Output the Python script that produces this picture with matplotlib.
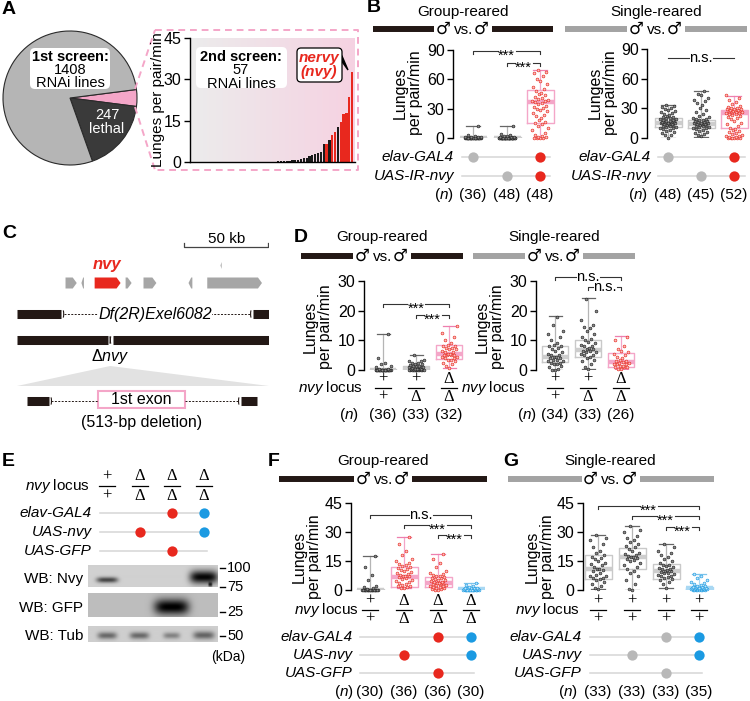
import matplotlib.pyplot as plt
import numpy as np
from matplotlib.patches import FancyBboxPatch, Polygon, Rectangle, Arc
from matplotlib.colors import LinearSegmentedColormap

plt.rcParams['font.family'] = ['Liberation Sans', 'DejaVu Sans']
plt.rcParams['mathtext.fontset'] = 'custom'
plt.rcParams['mathtext.it'] = 'Liberation Sans:italic'
plt.rcParams['mathtext.rm'] = 'Liberation Sans'
plt.rcParams['mathtext.bf'] = 'Liberation Sans:bold'

# ---------------- data ----------------
pie_counts = [57, 247, 1104]          # 2nd screen, lethal, rest of 1408

screen2_lunges = [0, 0, 0, 0, 0, 0, 0, 0, 0, 0,
                  0, 0, 0, 0, 0, 0, 0, 0, 0, 0,
                  0, 0, 0, 0, 0,
                  0.05, 0.05, 0.1, 0.1, 0.15, 0.2, 0.25, 0.3, 0.4, 0.5, 0.6, 0.75, 0.9, 1.0, 1.3,
                  1.6, 2.0, 2.4, 2.8, 3.2, 3.6,
                  6.5, 6.6, 8.1, 9.7, 10.8, 12.6, 14.5, 17.4, 17.9, 23.5, 32.6]
screen2_hit_tail = ['k', 'r', 'k', 'r', 'r', 'k', 'r', 'r', 'r', 'r', 'r']

# box stats: whislo, q1, med, q3, whishi
B_left_stats = [(0, 0, 0, 0.5, 12), (0, 0, 0, 0.8, 12.5), (0, 15.3, 37, 49, 69.5)]
B_left_pts = [
    [0, 0, 0, 0, 0, 0, 0, 0, 0, 0, 0, 0, 0, 0, 0, 0, 0, 0, 0, 0, 0, 0, 0, 0, 0, 0,
     0.5, 0.5, 0.5, 1, 1, 1, 1.5, 2, 3, 12],
    [0, 0, 0, 0, 0, 0, 0, 0, 0, 0, 0, 0, 0, 0, 0, 0, 0, 0, 0, 0, 0, 0, 0, 0, 0, 0, 0, 0,
     0, 0, 0, 0, 0, 0, 0, 0, 0.5, 0.5, 0.5, 1, 1, 1.5, 2, 2.5, 3, 4, 12.5],
    [0, 0, 0, 0.5, 1, 1.5, 2, 3, 5, 8, 10, 12, 14, 15, 16, 18, 20, 22, 24, 26, 28, 29, 30,
     31, 32, 33, 35, 36, 37, 38, 38, 39, 40, 41, 42, 44, 45, 46, 48, 50, 52, 55, 58, 60,
     63, 66, 68, 70]]
B_right_stats = [(0, 11, 15.5, 20.5, 33), (1.5, 10, 14.5, 18.5, 48), (0, 10, 25, 28.5, 42.5)]
B_right_pts = [
    [0, 3, 3, 5, 6, 7, 8, 9, 10, 10, 11, 11, 12, 12, 13, 13, 14, 14, 14, 15, 15, 15, 16,
     16, 16, 17, 17, 17, 18, 18, 19, 19, 20, 20, 21, 21, 22, 23, 24, 25, 26, 27, 28, 29,
     30, 31, 32, 33],
    [2, 3, 4, 5, 6, 7, 8, 9, 10, 10, 11, 11, 12, 12, 13, 13, 14, 14, 14, 15, 15, 15, 16,
     16, 17, 17, 18, 18, 19, 19, 20, 21, 22, 24, 26, 28, 30, 33, 35, 37, 38, 40, 43, 45, 48],
    [0, 0, 0, 0, 0, 0.5, 1, 1, 2, 2, 3, 4, 5, 6, 7, 8, 9, 10, 12, 14, 15, 17, 19, 20, 21,
     22, 23, 24, 24, 25, 25, 26, 26, 26, 27, 27, 27, 28, 28, 28, 29, 29, 29, 30, 30, 31,
     32, 34, 36, 38, 40, 43]]
B_left_n = [36, 48, 48]
B_right_n = [48, 45, 52]

D_left_stats = [(0, 0, 0, 0.2, 12.3), (0, 0, 0.5, 1.2, 5.2), (0.6, 3.7, 5.4, 8.4, 14.8)]
D_left_pts = [
    [0, 0, 0, 0, 0, 0, 0, 0, 0, 0, 0, 0, 0, 0, 0, 0, 0, 0, 0, 0, 0, 0, 0, 0, 0, 0, 0, 0,
     0.3, 0.5, 1, 1.5, 2, 2.5, 4, 12.3],
    [0, 0, 0, 0, 0, 0, 0, 0, 0, 0, 0, 0, 0.3, 0.3, 0.5, 0.5, 0.5, 0.8, 1, 1, 1, 1.2, 1.5,
     1.5, 1.8, 2, 2, 2.3, 2.5, 3, 3, 3.5, 5],
    [0.6, 1.5, 2, 2.5, 3, 3.5, 3.5, 4, 4, 4.5, 4.5, 5, 5, 5, 5.2, 5.5, 5.5, 6, 6, 6.5, 7,
     7, 7.5, 7.5, 8, 8, 8.5, 9, 10, 11, 12.5, 14.8]]
D_right_stats = [(0, 2.7, 4.4, 8.1, 18.2), (0.3, 4.4, 6.7, 10.1, 24.2), (0.5, 1, 2.7, 5.7, 11.4)]
D_right_pts = [
    [0, 0, 0.5, 1, 1.5, 2, 2, 2.5, 2.5, 3, 3, 3.5, 3.5, 4, 4, 4.5, 4.5, 5, 5, 5.5, 6, 6.5,
     7, 7.5, 8, 8, 8.5, 9, 10, 11, 12, 13, 15, 18],
    [0.3, 1, 2, 3, 3.5, 4, 4.5, 5, 5, 5.5, 6, 6, 6.5, 6.5, 7, 7, 7.5, 8, 8, 8.5, 9, 9.5,
     10, 10.5, 11, 12, 13, 14, 14.5, 15, 17, 20, 24],
    [0.5, 0.5, 1, 1, 1, 1.5, 1.5, 2, 2, 2, 2.5, 2.5, 2.8, 3, 3, 3.5, 4, 4.5, 5, 5.5, 6,
     6.5, 7, 8, 10, 11.2]]
D_left_n = [36, 33, 32]
D_right_n = [34, 33, 26]
D_tops, D_bots = ['+', '+', 'Δ'], ['+', 'Δ', 'Δ']

F_stats = [(0, 0, 0, 0.5, 17.6), (1, 1.6, 6.7, 11.9, 27.4), (0, 1.4, 3.8, 6.5, 18.5),
           (0, 0, 0.5, 1, 3.5)]
F_pts = [
    [0, 0, 0, 0, 0, 0, 0, 0, 0, 0, 0, 0, 0, 0, 0, 0, 0, 0, 0, 0, 0, 0, 0.5, 1, 1.5, 2, 5,
     8, 12, 17.5],
    [1, 1, 1.5, 2, 2, 2.5, 3, 3.5, 4, 4.5, 5, 5.5, 6, 6.5, 7, 7, 7.5, 8, 8.5, 9, 9.5, 10,
     10.5, 11, 11.5, 12, 12.5, 13, 13.5, 14, 15, 16, 18, 20, 24, 27.4],
    [0, 0, 0.5, 0.5, 1, 1, 1.5, 1.5, 2, 2, 2.5, 2.5, 3, 3, 3.5, 3.5, 3.8, 4, 4, 4.5, 5, 5,
     5.5, 6, 6, 6.5, 7, 7.5, 8, 8.5, 9, 10, 12, 14, 16, 18.5],
    [0, 0, 0, 0, 0, 0, 0, 0, 0, 0, 0, 0, 0, 0, 0, 0, 0, 0, 0.3, 0.5, 0.5, 0.8, 1, 1, 1,
     1.2, 1.5, 2, 2.5, 3.5]]
F_n = [30, 36, 36, 30]

G_stats = [(0.5, 5.7, 10.8, 18, 28.3), (0, 10.7, 17.2, 21.6, 33.2), (1, 5.7, 9.8, 13.4, 23.7),
           (0, 0.5, 1, 1.5, 8.2)]
G_pts = [
    [0.5, 1, 2, 3, 4, 5, 5.5, 6, 6, 7, 7.5, 8, 9, 10, 10.5, 11, 11, 12, 13, 13.5, 14, 15,
     16, 16.5, 17, 18, 19, 20, 22, 24, 26, 27, 28.3],
    [0, 0.5, 3, 5, 7, 9, 10, 11, 12, 13, 14, 15, 15.5, 16, 16.5, 17, 17, 17.5, 18, 18.5,
     19, 20, 21, 22, 23, 24, 25, 26, 27, 28, 30, 31, 33],
    [1, 3, 4, 5, 5.5, 6, 6.5, 7, 7.5, 8, 8.5, 9, 9, 9.5, 10, 10, 10.5, 11, 11, 11.5, 12,
     12.5, 13, 13, 14, 15, 16, 17, 18, 19, 20, 22, 23.7],
    [0, 0, 0, 0, 0, 0, 0, 0, 0.3, 0.3, 0.5, 0.5, 0.5, 0.7, 0.7, 0.8, 1, 1, 1, 1, 1.2, 1.2,
     1.5, 1.5, 1.8, 2, 2, 2.5, 3, 3.5, 4, 5, 6, 7, 8.2]]
G_n = [33, 33, 33, 35]

# gene map (kb)
gene_start = [29, 38.5, 46.4, 64.9, 75.6, 102.5, 113.7]
gene_end = [35.7, 40, 61.9, 68.5, 83.3, 104.8, 146.4]
gene_strand = [1, -1, 1, 1, 1, -1, 1]

# western blot bands: lane, y centre, x half-width, y half-width, darkness
nvy_bands = [(0, 0.32, 0.33, 0.13, 0.55), (3, 0.45, 0.44, 0.3, 0.8), (3.2, 0.1, 0.06, 0.1, 0.5)]
gfp_bands = [(2, 0.42, 0.54, 0.33, 0.75)]
tub_bands = [(0, 0.4, 0.3, 0.22, 0.4), (1, 0.4, 0.3, 0.22, 0.4), (2, 0.4, 0.26, 0.2, 0.3),
             (3, 0.42, 0.33, 0.25, 0.42)]

RED = '#e8281e'
BLUE = '#1b9ae2'
GRAYDOT = '#b8b8b8'
DARK = '#231815'
GRAYBAR = '#a3a3a3'
PINK = '#f4a6c8'
DOTC = {'g': GRAYDOT, 'r': RED, 'b': BLUE, '': None}

STYLE = {  # box edge, median, whisker, cap, point face, point edge
    'g': ('#c9c9c9', '#cdcdcd', '#b5b5b5', '#666666', '#8a8a8a', '#222222'),
    'r': (PINK, PINK, PINK, '#ee7fae', '#f9c0c0', RED),
    'b': ('#a9d8f3', '#a9d8f3', '#a9d8f3', '#7cc4ec', '#bfe4f8', BLUE),
}
JIT = [0, -3, 3, -6, 6, -1.5, 1.5, -4.5, 4.5, -7.5, 7.5, -2, 2, -5, 5, -1, 1, -4, 4, -7, 7]

W, H = 750, 701
fig = plt.figure(figsize=(7.5, 7.01), dpi=100)

cv = fig.add_axes([0, 0, 1, 1])
cv.set_xlim(0, W)
cv.set_ylim(H, 0)
cv.axis('off')
cv.set_zorder(10)
cv.patch.set_visible(False)


def px_axes(x0, y0, x1, y1):
    ax = fig.add_axes([x0 / W, 1 - y1 / H, (x1 - x0) / W, (y1 - y0) / H])
    ax.patch.set_visible(False)
    return ax


def letter(x, y, s):
    cv.text(x, y, s, fontsize=14, fontweight='bold', ha='left', va='center')


def header(cx, y_title, y_bar, half, title, color):
    cv.text(cx, y_title, title, ha='center', va='center', fontsize=11)
    cv.plot([cx - half, cx - 29], [y_bar, y_bar], color=color, lw=4.3, solid_capstyle='butt')
    cv.plot([cx + 29, cx + half], [y_bar, y_bar], color=color, lw=4.3, solid_capstyle='butt')
    cv.text(cx - 20, y_bar, '♂', ha='center', va='center', fontsize=12, family='DejaVu Sans')
    cv.text(cx + 0.5, y_bar + 1, 'vs.', ha='center', va='center', fontsize=11)
    cv.text(cx + 18.5, y_bar, '♂', ha='center', va='center', fontsize=12, family='DejaVu Sans')


def ylab(x, y):
    cv.text(x, y, 'Lunges\nper pair/min', rotation=90, ha='center', va='center',
            fontsize=11.5, linespacing=1.0, multialignment='center')


def box_panel(x_axis, x_right, y_top, y_bottom, ymax, yticks, xs, stats, points, kinds,
              width=26):
    ax = px_axes(x_axis, y_top, x_right, y_bottom)
    ax.set_xlim(x_axis, x_right)
    ax.set_ylim(0, ymax)
    for x, st, pts, kind in zip(xs, stats, points, kinds):
        edge, med, whisk, cap, pface, pedge = STYLE[kind]
        s = dict(zip(['whislo', 'q1', 'med', 'q3', 'whishi'], st))
        ax.bxp([s], positions=[x], widths=width, capwidths=width * 0.5, showfliers=False,
               boxprops=dict(color=edge, lw=1.0),
               medianprops=dict(color=med, lw=3.2, solid_capstyle='butt'),
               whiskerprops=dict(color=whisk, lw=0.9), capprops=dict(color=cap, lw=0.9),
               manage_ticks=False)
        vals = sorted(pts)
        offs = [JIT[i % len(JIT)] * width / 26 for i in range(len(vals))]
        ax.scatter([x + o for o in offs], vals, s=4, facecolor=pface, edgecolor=pedge,
                   lw=0.45, zorder=3, clip_on=False)
    for side in ['top', 'right', 'bottom']:
        ax.spines[side].set_visible(False)
    ax.spines['left'].set_linewidth(1)
    ax.set_yticks(yticks)
    ax.set_xticks([])
    ax.tick_params(axis='y', labelsize=11.5, length=4, width=1, pad=2)
    ax.ppu = ymax / (y_bottom - y_top)
    return ax


def bracket(ax, x1, x2, y, label, ticks=True):
    # x in pixels (the box axes use pixel x limits)
    h = ax.ppu * 3
    half = 9 if label == '***' else 12
    cx = (x1 + x2) / 2
    kw = dict(color='#333333', lw=0.8, clip_on=False)
    if ticks:
        ax.plot([x1, x1, cx - half], [y - h, y, y], **kw)
        ax.plot([cx + half, x2, x2], [y, y, y - h], **kw)
    else:
        ax.plot([x1, cx - half], [y, y], **kw)
        ax.plot([cx + half, x2], [y, y], **kw)
    fs = 10.5
    dy = -0.6 * fs if label == '***' else -0.27 * fs
    ax.annotate(label, (cx, y), xytext=(0, dy), textcoords='offset points',
                ha='center', va='baseline', fontsize=fs, annotation_clip=False)


def geno_rows(label_x, line_x0, line_x1, xs, rows):
    for label, y, cols in rows:
        cv.text(label_x, y, label, ha='right', va='center', style='italic', fontsize=11)
        cv.plot([line_x0, line_x1], [y, y], color='#d6d6d6', lw=1.1, zorder=1)
        for x, c in zip(xs, cols):
            if DOTC[c]:
                cv.scatter([x], [y], s=55, color=DOTC[c], lw=0, zorder=2)


def n_row(x_label, y, xs, ns):
    cv.text(x_label, y, '($\\mathit{n}$)', ha='center', va='center', fontsize=11)
    for x, n in zip(xs, ns):
        cv.text(x, y, f'({n})', ha='center', va='center', fontsize=11)


def locus_row(label_x, y, xs, tops, bots, d=9, half=8):
    cv.text(label_x, y, '$\\mathit{nvy}$ locus', ha='right', va='center', fontsize=11)
    for x, t, b in zip(xs, tops, bots):
        cv.text(x, y - d, t, ha='center', va='center', family='Liberation Serif', fontsize=12)
        cv.plot([x - half, x + half], [y, y], color='black', lw=0.9)
        cv.text(x, y + d, b, ha='center', va='center', family='Liberation Serif', fontsize=12)


# ---------------- A ----------------
letter(2, 10, 'A')
axp = px_axes(3, 31, 137, 165)
axp.pie(pie_counts, colors=[PINK, '#3a3a3a', '#b5b5b5'], startangle=360 * 57 / 1408 / 2,
        counterclock=False, wedgeprops=dict(edgecolor='#2a2a2a', linewidth=0.8))
axp.set_xlim(-1, 1)
axp.set_ylim(-1, 1)
cv.add_patch(FancyBboxPatch((30, 48), 80, 41, boxstyle='round,pad=0,rounding_size=5',
                            fc='white', ec='none'))
cv.text(70, 70, '$\\mathbf{1st\\ screen\\!:}$\n1408\nRNAi lines', ha='center', va='center',
        fontsize=10.5, linespacing=0.95)
cv.text(107, 122, '247\nlethal', ha='center', va='center', fontsize=10.5, color='white',
        linespacing=0.95)

dash = dict(color=PINK, lw=1.4, ls=(0, (3.5, 2.5)))
cv.plot([135, 155], [89, 30], **dash)
cv.plot([135, 155], [107, 170], **dash)
cv.plot([155, 358, 358, 155], [30, 30, 170, 170], **dash)

n_bars = len(screen2_lunges)
hit = ['k'] * (n_bars - len(screen2_hit_tail)) + screen2_hit_tail
axi = px_axes(190, 38, 355, 162)
grad = LinearSegmentedColormap.from_list('bg', ['#ececec', '#f6d2e2'])
axi.imshow(np.linspace(0, 1, 256)[None, :], cmap=grad, extent=(-1, n_bars, 0, 46),
           aspect='auto', zorder=0)
axi.bar(range(n_bars), screen2_lunges, width=0.8,
        color=[RED if c == 'r' else '#1a1a1a' for c in hit], zorder=2)
axi.set_xlim(-1, n_bars)
axi.set_ylim(0, 45)
axi.set_yticks([0, 15, 30, 45])
axi.set_xticks([])
axi.spines['top'].set_visible(False)
axi.spines['right'].set_visible(False)
axi.spines['left'].set_linewidth(1)
axi.spines['bottom'].set_linewidth(1)
axi.tick_params(axis='y', labelsize=11.5, length=4, width=1, pad=2)
cv.text(158, 100, 'Lunges per pair/min', rotation=90, ha='center', va='center', fontsize=11)
cv.add_patch(FancyBboxPatch((196, 47), 91, 41, boxstyle='round,pad=0,rounding_size=5',
                            fc='white', ec='none'))
cv.text(241, 70, '$\\mathbf{2nd\\ screen\\!:}$\n57\nRNAi lines', ha='center', va='center',
        fontsize=10.5, linespacing=0.95)
cv.add_patch(Polygon([(333, 49), (342, 56), (348, 70)], closed=True, fc='black', ec='black'))
cv.add_patch(FancyBboxPatch((297, 48), 45, 34, boxstyle='round,pad=0,rounding_size=4',
                            fc='white', ec='black', lw=0.9))
cv.text(319, 65, 'nervy\n(nvy)', ha='center', va='center', fontsize=11, color=RED,
        fontweight='bold', style='italic', linespacing=0.95)

# ---------------- B ----------------
letter(367, 8, 'B')
header(463, 12, 29, 90, 'Group-reared', DARK)
header(656, 12, 29, 91, 'Single-reared', GRAYBAR)
xsBL = [473, 507, 540]
xsBR = [668, 701, 734]
axBL = box_panel(453, 556, 50, 138, 90, [0, 30, 60, 90], xsBL, B_left_stats, B_left_pts,
                 ['g', 'g', 'r'], width=27)
bracket(axBL, xsBL[0], xsBL[2], 89, '***')
bracket(axBL, xsBL[1], xsBL[2], 77, '***')
axBR = box_panel(647, 750, 49, 138, 90, [0, 30, 60, 90], xsBR, B_right_stats, B_right_pts,
                 ['g', 'g', 'r'], width=27)
bracket(axBR, xsBR[0], xsBR[2], 81, 'n.s.', ticks=False)
ylab(408, 93)
ylab(603, 93)
geno_rows(454, 462, 550, xsBL, [('elav-GAL4', 157, ['g', '', 'r']),
                                ('UAS-IR-nvy', 176, ['', 'g', 'r'])])
geno_rows(651, 658, 745, xsBR, [('elav-GAL4', 157, ['g', '', 'r']),
                                ('UAS-IR-nvy', 176, ['', 'g', 'r'])])
n_row(444, 195, xsBL, B_left_n)
n_row(638, 195, xsBR, B_right_n)

# ---------------- C ----------------
letter(2, 233, 'C')
axc = px_axes(17, 225, 269, 430)
axc.set_xlim(0, 150.6)
axc.set_ylim(430, 225)
axc.axis('off')
for s0, s1, strand, i in zip(gene_start, gene_end, gene_strand, range(len(gene_start))):
    tip = min(2.4, (s1 - s0) * 0.7)
    yc, hh = 283, 5.5
    if strand > 0:
        pts = [(s0, yc - hh), (s1 - tip, yc - hh), (s1, yc), (s1 - tip, yc + hh), (s0, yc + hh)]
    else:
        pts = [(s1, yc - hh), (s0 + tip, yc - hh), (s0, yc), (s0 + tip, yc + hh), (s1, yc + hh)]
    axc.add_patch(Polygon(pts, closed=True, fc=RED if i == 2 else '#a6a6a6', ec='none'))
axc.add_patch(Polygon([(122.3, 262), (121.6, 265.5), (122.3, 269)], closed=True, fc='#a6a6a6',
                      ec='none'))
axc.text(53.8, 265, 'nvy', ha='center', va='center', fontsize=12, color=RED,
         fontweight='bold', style='italic')
axc.plot([100, 100, 150, 150], [243, 247, 247, 243], color='#444444', lw=0.9)
axc.text(125, 239, '50 kb', ha='center', va='center', fontsize=11)


def end_mark(x, y, right):
    # thin bracket at the end of a thick chromosome bar
    if right:
        axc.add_patch(Arc((x - 0.6, y), 2.4, 12, theta1=-75, theta2=75, color=DARK, lw=0.8))
    else:
        axc.add_patch(Arc((x + 0.6, y), 2.4, 12, theta1=105, theta2=255, color=DARK, lw=0.8))


axc.plot([0, 26.5], [314, 314], color=DARK, lw=6.5, solid_capstyle='butt')
axc.plot([141, 150.6], [314, 314], color=DARK, lw=6.5, solid_capstyle='butt')
end_mark(27.3, 314, True)
end_mark(140.2, 314, False)
axc.plot([28, 139.5], [314, 314], color=DARK, lw=0.7, ls=(0, (2, 1.5)))
axc.text(82.5, 314, 'Df(2R)Exel6082', ha='center', va='center', fontsize=11.5, style='italic',
         bbox=dict(fc='white', ec='none', pad=0.5))

axc.plot([0, 54.3], [340, 340], color=DARK, lw=6.5, solid_capstyle='butt')
axc.plot([57.2, 150.6], [340, 340], color=DARK, lw=6.5, solid_capstyle='butt')
end_mark(55.1, 340, True)
end_mark(56.4, 340, False)
axc.text(55.7, 357, 'Δ$\\mathit{nvy}$', ha='center', va='center', fontsize=11.5)
axc.add_patch(Polygon([(55.7, 366), (0, 386), (150.6, 386)], closed=True, fc='#e2e2e2',
                      ec='none', zorder=0))

axc.plot([6, 19.2], [401, 401], color=DARK, lw=6.5, solid_capstyle='butt')
axc.plot([133.8, 143.5], [401, 401], color=DARK, lw=6.5, solid_capstyle='butt')
end_mark(20.0, 401, True)
end_mark(133.0, 401, False)
axc.plot([20.5, 48.4], [401, 401], color=DARK, lw=0.7, ls=(0, (2, 1.5)))
axc.plot([100.4, 132.5], [401, 401], color=DARK, lw=0.7, ls=(0, (2, 1.5)))
axc.add_patch(Rectangle((48.4, 391), 52, 17, fc='white', ec=PINK, lw=1.5))
axc.text(74.4, 399.5, '1st exon', ha='center', va='center', fontsize=11.5)
axc.text(74.4, 422, '(513-bp deletion)', ha='center', va='center', fontsize=11.5)

# ---------------- D ----------------
letter(294, 237, 'D')
header(382, 237, 256, 81, 'Group-reared', DARK)
header(554, 237, 256, 81, 'Single-reared', GRAYBAR)
xsDL = [383, 416, 449]
xsDR = [555, 588, 621]
axDL = box_panel(364, 466, 281, 370, 30, [0, 10, 20, 30], xsDL, D_left_stats, D_left_pts,
                 ['g', 'g', 'r'])
bracket(axDL, xsDL[0], xsDL[2], 22.2, '***')
bracket(axDL, xsDL[1], xsDL[2], 18.5, '***')
axDR = box_panel(536, 640, 281, 370, 30, [0, 10, 20, 30], xsDR, D_right_stats, D_right_pts,
                 ['g', 'g', 'r'])
bracket(axDR, xsDR[0], xsDR[2], 31.3, 'n.s.')
bracket(axDR, xsDR[1], xsDR[2], 27.9, 'n.s.')
ylab(318, 327)
ylab(490, 327)
locus_row(363, 388, xsDL, D_tops, D_bots)
locus_row(526, 388, xsDR, D_tops, D_bots)
n_row(349, 415, xsDL, D_left_n)
n_row(527, 415, xsDR, D_right_n)

# ---------------- E ----------------
letter(2, 462, 'E')
xsE = [107, 140, 172, 204]
locus_row(90, 486, xsE, ['+', 'Δ', 'Δ', 'Δ'], ['+', 'Δ', 'Δ', 'Δ'], d=9.5)
geno_rows(92, 100, 207, xsE, [('elav-GAL4', 513, ['', '', 'r', 'b']),
                              ('UAS-nvy', 532, ['', 'r', '', 'b']),
                              ('UAS-GFP', 551, ['', '', 'r', ''])])


def blot(y0, y1, bg, bands):
    ax = px_axes(88, y0, 218, y1)
    X, Y = np.meshgrid(np.linspace(-0.59, 3.43, 260), np.linspace(0, 1, 60))
    img = np.full_like(X, bg)
    for lane, yc, wx, wy, k in bands:
        img = img - k * np.exp(-((X - lane) / wx) ** 4 - ((Y - yc) / wy) ** 2)
    ax.imshow(img, cmap='gray', vmin=0, vmax=1, extent=(-0.59, 3.43, 0, 1), origin='lower',
              aspect='auto')
    ax.set_xticks([])
    ax.set_yticks([])
    for s in ax.spines.values():
        s.set_visible(False)


blot(565, 587, 0.82, nvy_bands)
blot(593, 617, 0.74, gfp_bands)
blot(626, 642, 0.81, tub_bands)
for lab, y in [('WB: Nvy', 579), ('WB: GFP', 608), ('WB: Tub', 636)]:
    cv.text(83, y, lab, ha='right', va='center', fontsize=11)
for lab, y in [('100', 568), ('75', 587), ('25', 612), ('50', 636)]:
    cv.plot([220, 225], [y, y], color='black', lw=1)
    cv.text(227, y, lab, ha='left', va='center', fontsize=10.5)
cv.text(228, 657, '(kDa)', ha='center', va='center', fontsize=10)

# ---------------- F ----------------
letter(268, 461, 'F')
header(383, 461, 479, 104, 'Group-reared', DARK)
xsF = [370, 404, 438, 471]
axF = box_panel(351, 485, 503, 590, 45, [0, 15, 30, 45], xsF, F_stats, F_pts,
                ['g', 'r', 'r', 'b'], width=27)
bracket(axF, xsF[0], xsF[3], 38.8, 'n.s.')
bracket(axF, xsF[1], xsF[3], 33.5, '***')
bracket(axF, xsF[2], xsF[3], 28.3, '***')
ylab(307, 557)
locus_row(359, 610, xsF, ['+', 'Δ', 'Δ', 'Δ'], ['+', 'Δ', 'Δ', 'Δ'])
geno_rows(353, 360, 474, xsF, [('elav-GAL4', 637, ['', '', 'r', 'b']),
                               ('UAS-nvy', 655, ['', 'r', '', 'b']),
                               ('UAS-GFP', 673, ['', '', 'r', ''])])
n_row(344, 692, xsF, F_n)

# ---------------- G ----------------
letter(503, 461, 'G')
header(610.5, 461, 479, 103, 'Single-reared', GRAYBAR)
xsG = [598, 632, 666, 699]
axG = box_panel(583, 715, 503, 590, 45, [0, 15, 30, 45], xsG, G_stats, G_pts,
                ['g', 'g', 'g', 'b'], width=27)
bracket(axG, xsG[0], xsG[3], 43.5, '***')
bracket(axG, xsG[1], xsG[3], 38.2, '***')
bracket(axG, xsG[2], xsG[3], 32.7, '***')
ylab(540, 557)
locus_row(580, 610, xsG, ['+', '+', '+', '+'], ['+', '+', '+', '+'])
geno_rows(582, 590, 702, xsG, [('elav-GAL4', 637, ['', '', 'g', 'b']),
                               ('UAS-nvy', 655, ['', 'g', '', 'b']),
                               ('UAS-GFP', 673, ['', '', 'g', ''])])
n_row(568, 692, xsG, G_n)

fig.savefig('out.png', dpi=100)
